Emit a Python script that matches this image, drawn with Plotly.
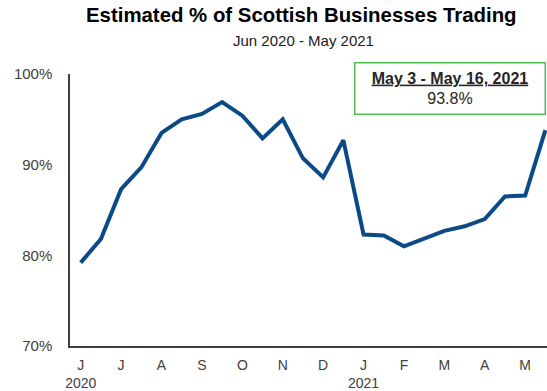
import plotly.graph_objects as go

# Fortnightly survey waves, Jun 2020 - May 2021 (percent of businesses trading)
wave = list(range(24))
pct_trading = [79.2, 81.8, 87.3, 89.7, 93.5, 95.0, 95.6, 96.9, 95.4, 92.9, 95.0, 90.7,
               88.6, 92.7, 82.3, 82.2, 81.0, 81.9, 82.7, 83.2, 84.0, 86.5, 86.6, 93.8]

# Month labels placed on every second wave
month_ticks = [0, 2, 4, 6, 8, 10, 12, 14, 16, 18, 20, 22]
month_labels = ["J<br>2020", "J", "A", "S", "O", "N", "D", "J<br>2021", "F", "M", "A", "M"]

y_ticks = [70, 80, 90, 100]
y_labels = ["70%", "80%", "90%", "100%"]

latest_period = "May 3 - May 16, 2021"

LINE = "#0B4A86"
AXIS = "#404040"
FONT = "Liberation Sans, Arial, sans-serif"

fig = go.Figure()
fig.add_trace(go.Scatter(
    x=wave, y=pct_trading, mode="lines",
    line=dict(color=LINE, width=4), hoverinfo="skip",
))

fig.update_layout(
    width=547, height=391,
    margin=dict(l=70, r=0, t=74, b=45),
    paper_bgcolor="white", plot_bgcolor="white",
    showlegend=False,
    font=dict(family=FONT, color=AXIS),
    xaxis=dict(
        range=[-0.53, 23.08], showgrid=False, zeroline=False,
        showline=True, linecolor=AXIS, linewidth=1.5,
        tickmode="array", tickvals=month_ticks, ticktext=month_labels,
        ticks="", ticklabelstandoff=5, automargin=False,
        tickfont=dict(size=14, color=AXIS, family=FONT),
    ),
    yaxis=dict(
        range=[70, 100], showgrid=False, zeroline=False,
        showline=True, linecolor=AXIS, linewidth=1.5,
        tickmode="array", tickvals=y_ticks, ticktext=y_labels,
        ticks="", ticklabelstandoff=13, automargin=False,
        tickfont=dict(size=15, color=AXIS, family=FONT),
    ),
    annotations=[
        dict(text="<b>Estimated % of Scottish Businesses Trading</b>",
             xref="paper", yref="paper", x=(301 - 70) / 477, y=(346 - 15) / 272,
             xanchor="center", yanchor="middle", showarrow=False,
             font=dict(size=20.4, color="black", family=FONT)),
        dict(text="Jun 2020 - May 2021",
             xref="paper", yref="paper", x=(303 - 70) / 477, y=(346 - 40) / 272,
             xanchor="center", yanchor="middle", showarrow=False,
             font=dict(size=15, color="#202020", family=FONT)),
        dict(text=f"<b><u>{latest_period}</u></b><br>{pct_trading[-1]:.1f}%",
             xref="paper", yref="paper", x=(449.5 - 70) / 477, y=(346 - 88.5) / 272,
             xanchor="center", yanchor="middle", showarrow=False,
             width=189, height=50, align="center",
             bordercolor="#4CC44C", borderwidth=1.5, borderpad=0, bgcolor="white",
             font=dict(size=16, color="#262626", family=FONT)),
    ],
)

fig.write_html("out.html")
